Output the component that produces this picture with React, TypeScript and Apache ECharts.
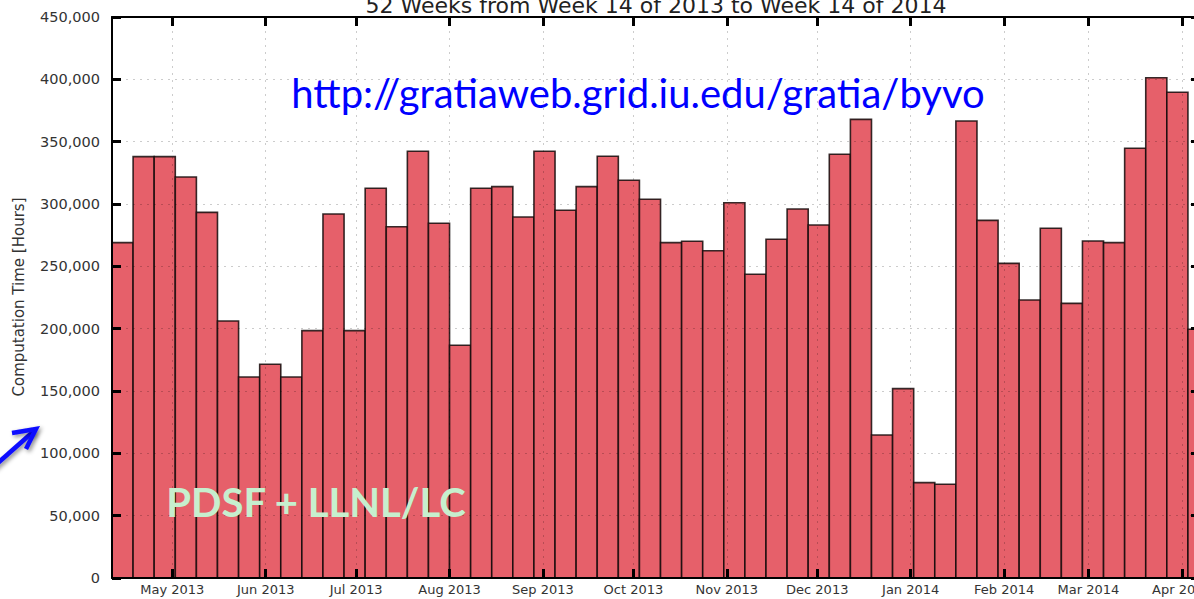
import React, { useEffect, useRef } from "react";
import * as echarts from "echarts";

// Weekly computation time [hours], 52 weeks starting week 14 of 2013
const weeklyHours: number[] = [
  269000, 338000, 338000, 321700, 293300, 206200, 161200, 171400, 161200, 198400,
  292000, 198400, 312600, 281800, 342300, 284500, 186700, 312600, 313900, 289600,
  342300, 295000, 313900, 338300, 319000, 303800, 269000, 270100, 262500, 301000,
  243600, 271700, 296000, 283200, 339900, 367900, 114700, 151900, 76500, 75200,
  366600, 286900, 252400, 223000, 280500, 220300, 270300, 269000, 344700, 401300,
  389600, 199500,
];

// first bin start date (x axis origin)
const axisStartDate = "2013-04-11";
const daysPerBin = 7;
const axisSpanDays = 361;

const monthTickDates: string[] = [
  "2013-05-01", "2013-06-01", "2013-07-01", "2013-08-01", "2013-09-01", "2013-10-01",
  "2013-11-01", "2013-12-01", "2014-01-01", "2014-02-01", "2014-03-01", "2014-04-01",
];
const monthTickLabels: string[] = [
  "May 2013", "Jun 2013", "Jul 2013", "Aug 2013", "Sep 2013", "Oct 2013",
  "Nov 2013", "Dec 2013", "Jan 2014", "Feb 2014", "Mar 2014", "Apr 2014",
];

const yMax = 450000;
const yStep = 50000;

const titleText = "52 Weeks from Week 14 of 2013 to Week 14 of 2014";
const yAxisName = "Computation Time [Hours]";
const urlText = "http://gratiaweb.grid.iu.edu/gratia/byvo";
const siteText = "PDSF + LLNL/LC";

function dayOffset(d: string): number {
  return Math.round((Date.parse(d + "T00:00:00Z") - Date.parse(axisStartDate + "T00:00:00Z")) / 86400000);
}

export default function App() {
  const ref = useRef<HTMLDivElement>(null);
  useEffect(() => {
    if (!ref.current) return;
    const chart = echarts.init(ref.current, null, { renderer: "svg" });
    const tickDays = monthTickDates.map(dayOffset);
    const labelFor = (v: number) => {
      const i = tickDays.indexOf(Math.round(v));
      return i >= 0 ? monthTickLabels[i] : "";
    };
    const data = weeklyHours.map((v, i) => [i * daysPerBin, (i + 1) * daysPerBin, v]);
    const gridLine = { show: true, lineStyle: { color: "rgba(0,0,0,0.2)", type: [2, 5], width: 1 } };
    const axisLine = { show: true, onZero: false, lineStyle: { color: "#000", width: 2 } };
    const tick = { show: true, inside: true, length: 9, lineStyle: { color: "#000", width: 3 } };

    const option: any = {
      animation: false,
      grid: {
        left: 112, top: 17, width: 1088, height: 561,
        containLabel: false, outerBoundsMode: "none",
      },
      xAxis: [
        {
          type: "value", min: 0, max: axisSpanDays, position: "bottom", z: 3,
          axisLine,
          axisTick: { ...tick, customValues: tickDays },
          axisLabel: {
            show: true, customValues: tickDays, formatter: labelFor,
            color: "#333", fontFamily: "DejaVu Sans", fontSize: 13, margin: 5,
          },
          splitLine: gridLine,
        },
        {
          type: "value", min: 0, max: axisSpanDays, position: "top", z: 3,
          axisLine,
          axisTick: { ...tick, customValues: tickDays },
          axisLabel: { show: false },
          splitLine: { show: false },
        },
      ],
      yAxis: [
        {
          type: "value", min: 0, max: yMax, interval: yStep, position: "left", z: 3,
          axisLine,
          axisTick: tick,
          axisLabel: {
            color: "#333", fontFamily: "DejaVu Sans", fontSize: 14.5, margin: 12,
            formatter: (v: number) => v.toLocaleString("en-US"),
          },
          splitLine: gridLine,
        },
        {
          type: "value", min: 0, max: yMax, interval: yStep, position: "right", z: 3,
          axisLine,
          axisTick: tick,
          axisLabel: { show: false },
          splitLine: { show: false },
        },
      ],
      series: [
        {
          type: "custom",
          clip: true,
          z: 1,
          encode: { x: [0, 1], y: 2 },
          data,
          renderItem: (params: any, api: any) => {
            const p0 = api.coord([api.value(0), api.value(2)]);
            const p1 = api.coord([api.value(1), 0]);
            return {
              type: "rect",
              shape: { x: p0[0], y: p0[1], width: p1[0] - p0[0], height: p1[1] - p0[1] },
              style: { fill: "#e6606a", stroke: "rgba(20,10,10,0.85)", lineWidth: 1.6 },
            };
          },
        },
      ],
      graphic: [
        {
          type: "text", x: 656, y: 5, z: 100,
          style: {
            text: titleText, fill: "#222", font: "22px 'DejaVu Sans'",
            textAlign: "center", textVerticalAlign: "middle",
          },
        },
        {
          type: "text", x: 19, y: 297, z: 100, rotation: Math.PI / 2,
          style: {
            text: yAxisName, fill: "#333", font: "15px 'DejaVu Sans'",
            textAlign: "center", textVerticalAlign: "middle",
          },
        },
        {
          type: "text", x: 638, y: 93, z: 100,
          style: {
            text: urlText, fill: "#0000ff", font: "40px Lato",
            textAlign: "center", textVerticalAlign: "middle",
          },
        },
        {
          type: "text", x: 316, y: 502, z: 100,
          style: {
            text: siteText, fill: "#c6efce", font: "bold 40px Lato",
            textAlign: "center", textVerticalAlign: "middle",
          },
        },
        {
          type: "polyline", z: 100,
          shape: { points: [[-10, 470], [34, 431]] },
          style: {
            stroke: "#0a0aff", lineWidth: 4.5, fill: null,
            shadowBlur: 4, shadowColor: "rgba(0,0,0,0.45)", shadowOffsetX: 2, shadowOffsetY: 2,
          },
        },
        {
          type: "polyline", z: 100,
          shape: { points: [[12, 433], [36, 429], [26, 449]] },
          style: {
            stroke: "#0a0aff", lineWidth: 4.5, fill: null, lineJoin: "miter",
            shadowBlur: 4, shadowColor: "rgba(0,0,0,0.45)", shadowOffsetX: 2, shadowOffsetY: 2,
          },
        },
      ],
    };
    chart.setOption(option);
    return () => chart.dispose();
  }, []);
  return (
    <div
      ref={ref}
      style={{ position: "fixed", left: 0, top: 0, width: 1194, height: 599, background: "#fff" }}
    />
  );
}
